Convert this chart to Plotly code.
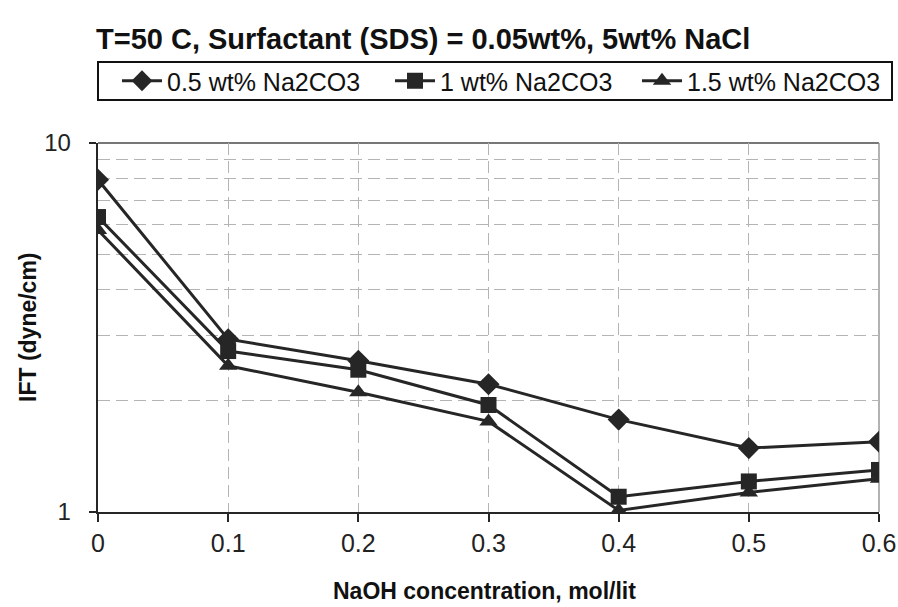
import plotly.graph_objects as go

naoh = [0, 0.1, 0.2, 0.3, 0.4, 0.5, 0.6]
ift_05 = [7.95, 2.94, 2.57, 2.22, 1.78, 1.49, 1.55]
ift_10 = [6.30, 2.73, 2.43, 1.95, 1.10, 1.21, 1.30]
ift_15 = [5.81, 2.49, 2.11, 1.76, 1.01, 1.13, 1.23]
names = ["0.5 wt% Na2CO3", "1 wt% Na2CO3", "1.5 wt% Na2CO3"]
symbols = ["diamond", "square", "triangle-up"]
x_ticks = [0, 0.1, 0.2, 0.3, 0.4, 0.5, 0.6]
x_ticktext = ["0", "0.1", "0.2", "0.3", "0.4", "0.5", "0.6"]
y_ticks = [1, 10]
y_ticktext = ["1", "10"]
y_minor = [2, 3, 4, 5, 6, 7, 8, 9]

title_text = "T=50 C, Surfactant (SDS) = 0.05wt%, 5wt% NaCl"
x_title = "NaOH concentration, mol/lit"
y_title = "IFT (dyne/cm)"

ink = "#262626"
grid = "#b4b4b4"
sans = "Liberation Sans, Arial, sans-serif"
NB = "\u00a0"

PL, PR, PT, PB = 98, 879, 143, 512
pw, ph = PR - PL, PB - PT

legend_ids = ["legend", "legend2", "legend3"]
legend_px = [117, 390, 637]

fig = go.Figure()
for name, ys, sym, lid in zip(names, [ift_05, ift_10, ift_15], symbols, legend_ids):
    fig.add_trace(go.Scatter(
        x=naoh, y=ys, name=name, mode="lines+markers", legend=lid,
        line=dict(color=ink, width=3),
        marker=dict(symbol=sym, size=17 if sym == "diamond" else 16, color=ink),
    ))

legend_common = dict(orientation="h", xanchor="left", y=(PB - 81) / ph, yanchor="middle",
                     borderwidth=0, bgcolor="rgba(0,0,0,0)",
                     font=dict(size=25, color="#111"), itemwidth=40)

layout_legends = {lid: dict(legend_common, x=(px - PL) / pw)
                  for lid, px in zip(legend_ids, legend_px)}

fig.update_layout(
    width=898, height=607,
    margin=dict(l=PL, r=898 - PR, t=PT, b=607 - PB, autoexpand=False),
    paper_bgcolor="white", plot_bgcolor="white",
    font=dict(family=sans, color="#111", size=18),
    title=dict(text="<b>" + title_text + "</b>", x=96 / 898, xanchor="left",
               y=1 - 39 / 607, yanchor="middle",
               font=dict(size=29, color="#111")),
    showlegend=True,
    **layout_legends,
    xaxis=dict(range=[0, 0.6], tickvals=x_ticks, ticktext=x_ticktext, automargin=False,
               showline=True, linecolor=ink, linewidth=2,
               ticks="outside", ticklen=8, tickcolor=ink, tickwidth=1.5,
               ticklabeloverflow="allow",
               showgrid=True, gridcolor=grid, griddash="12px,6px", gridwidth=1,
               zeroline=False, tickfont=dict(size=25, color="#222")),
    yaxis=dict(type="log", range=[0, 1], tickvals=y_ticks,
               ticktext=[t + NB + NB for t in y_ticktext], automargin=False,
               showline=True, linecolor=ink, linewidth=2,
               ticks="outside", ticklen=7, tickcolor=ink, tickwidth=1.5,
               ticklabeloverflow="allow",
               showgrid=False, zeroline=False,
               tickfont=dict(size=24, color="#222"),
               minor=dict(tickvals=y_minor, showgrid=True, gridcolor=grid, griddash="12px,6px",
                          gridwidth=1, ticks="")),
    annotations=[
        dict(text="<b>" + x_title + "</b>", xref="paper", yref="paper",
             x=0.5 - 4 / pw, y=(PB - 591) / ph, xanchor="center", yanchor="middle",
             showarrow=False, font=dict(size=23, color="#111")),
        dict(text="<b>" + y_title + "</b>", xref="paper", yref="paper",
             x=(28 - PL) / pw, y=(PB - 327) / ph, xanchor="center", yanchor="middle",
             textangle=-90, showarrow=False, font=dict(size=23, color="#111")),
    ],
    shapes=[
        dict(type="line", xref="x domain", yref="y domain", x0=0, x1=1, y0=1, y1=1,
             line=dict(color="#777", width=2), layer="below"),
        dict(type="line", xref="x domain", yref="y domain", x0=1, x1=1, y0=0, y1=1,
             line=dict(color="#999", width=1.5), layer="below"),
        dict(type="rect", xref="paper", yref="paper",
             x0=0, x1=(892 - PL) / pw, y0=(PB - 100) / ph, y1=(PB - 62) / ph,
             line=dict(color="#111", width=2), fillcolor="rgba(0,0,0,0)"),
    ],
)

fig.write_html("out.html")
